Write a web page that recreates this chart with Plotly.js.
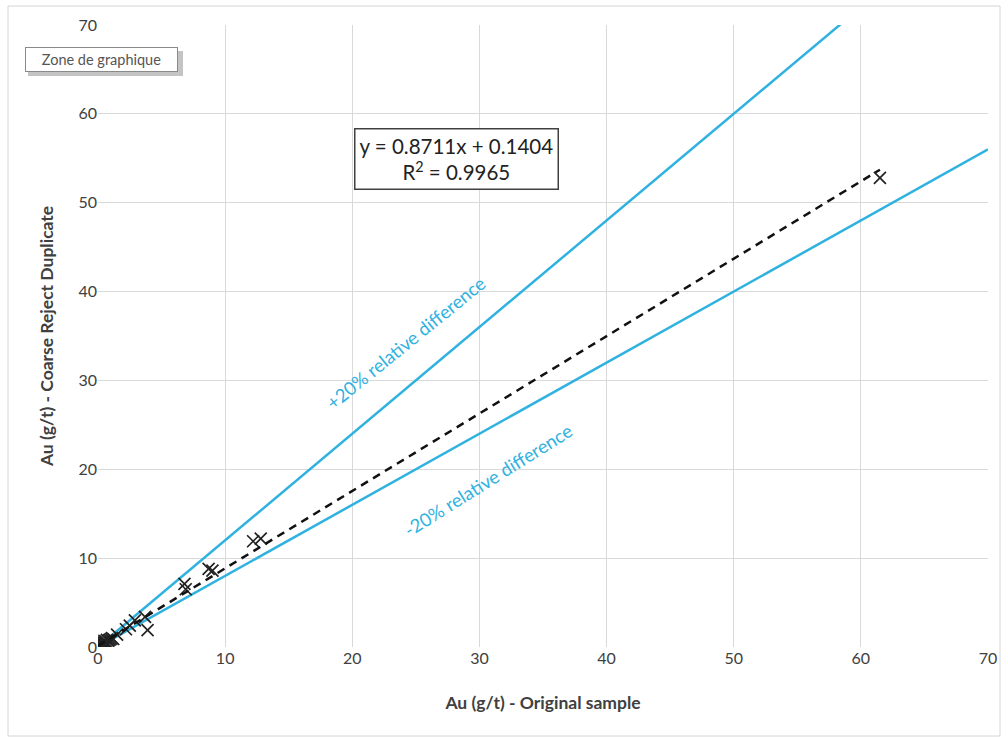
<!DOCTYPE html>
<html>
<head>
<meta charset="utf-8">
<script src="https://cdn.plot.ly/plotly-3.0.1.min.js"></script>
<style>
  html, body { margin: 0; padding: 0; background: #ffffff; }
  #chart { width: 1008px; height: 737px; }
</style>
</head>
<body>
<div id="chart"></div>
<script>
// Data
const originalSample = [0.1, 0.15, 0.2, 0.25, 0.3, 0.35, 0.4, 0.45, 0.5, 0.55, 0.6, 0.65, 0.7, 0.8, 0.9, 1.0, 1.1, 0.3, 0.5, 0.7, 0.4, 0.6, 1.2, 1.5, 2.2, 2.5, 2.9, 3.7, 3.9, 6.8, 6.9, 8.7, 9.0, 12.2, 12.8, 61.5];
const coarseDuplicate = [0.1, 0.2, 0.1, 0.3, 0.2, 0.4, 0.3, 0.5, 0.4, 0.3, 0.6, 0.5, 0.4, 0.7, 0.8, 0.9, 1.0, 0.5, 0.7, 0.8, 0.1, 0.2, 0.9, 1.4, 2.0, 2.4, 3.0, 3.4, 1.9, 7.1, 6.5, 8.8, 8.6, 11.9, 12.2, 52.8];

const slope = 0.8711;
const intercept = 0.1404;
const trendX = [0, 61.5];
const trendY = trendX.map(v => slope * v + intercept);

const limitX = [0, 70];
const plus20Y = limitX.map(v => 1.2 * v);
const minus20Y = limitX.map(v => 0.8 * v);

const tickVals = [0, 10, 20, 30, 40, 50, 60, 70];
const tickText = ['0', '10', '20', '30', '40', '50', '60', '70'];

const blue = '#2fb2df';
const fontFam = 'Lato, "Open Sans", sans-serif';

const traces = [
  { x: limitX, y: plus20Y, mode: 'lines', line: { color: blue, width: 2.5 }, hoverinfo: 'skip', showlegend: false },
  { x: limitX, y: minus20Y, mode: 'lines', line: { color: blue, width: 2.5 }, hoverinfo: 'skip', showlegend: false },
  { x: originalSample, y: coarseDuplicate, mode: 'markers', marker: { symbol: 'x-thin', size: 12, color: '#222', line: { width: 1.7, color: '#222' } }, showlegend: false },
  { x: trendX, y: trendY, mode: 'lines', line: { color: '#111', width: 2.5, dash: '8px,6px' }, hoverinfo: 'skip', showlegend: false }
];

const L = 98, R = 988, T = 25, B = 647;
const px = v => (v - L) / (R - L);
const py = v => (B - v) / (B - T);

const layout = {
  width: 1008, height: 737,
  margin: { l: L, r: 1008 - R, t: T, b: 737 - B },
  paper_bgcolor: '#ffffff', plot_bgcolor: '#ffffff',
  font: { family: fontFam, color: '#404040' },
  xaxis: {
    range: [0, 70], tickvals: tickVals, ticktext: tickText,
    showgrid: true, gridcolor: '#d9d9d9', gridwidth: 1, zeroline: false, showline: false,
    ticks: '', tickfont: { size: 16, color: '#404040', family: fontFam },
    title: { text: 'Au (g/t) - Original sample', font: { size: 17.5, color: '#404040', family: fontFam, weight: 'bold' }, standoff: 30 }
  },
  yaxis: {
    range: [0, 70], tickvals: tickVals, ticktext: tickText,
    showgrid: true, gridcolor: '#d9d9d9', gridwidth: 1, zeroline: false, showline: false,
    ticks: '', tickfont: { size: 16, color: '#404040', family: fontFam },
    title: { text: 'Au (g/t) - Coarse Reject Duplicate', font: { size: 17.5, color: '#404040', family: fontFam, weight: 'bold' }, standoff: 20 }
  },
  shapes: [
    { type: 'rect', xref: 'paper', yref: 'paper', x0: px(8), x1: px(1000), y0: py(736), y1: py(6), line: { color: '#d4d4d4', width: 1 }, layer: 'below' },
    { type: 'rect', xref: 'paper', yref: 'paper', x0: px(28), x1: px(183), y0: py(76), y1: py(51), fillcolor: '#c4c4c4', line: { width: 0 } }
  ],
  annotations: [
    { x: 24.2, y: 34.2, xref: 'x', yref: 'y', xanchor: 'center', yanchor: 'middle', text: '+20% relative difference', showarrow: false, textangle: -39, font: { size: 18.5, color: blue, family: fontFam } },
    { x: 30.7, y: 18.8, xref: 'x', yref: 'y', xanchor: 'center', yanchor: 'middle', text: '-20% relative difference', showarrow: false, textangle: -32, font: { size: 18.5, color: blue, family: fontFam } },
    { x: px(456), y: py(159), xref: 'paper', yref: 'paper', xanchor: 'center', yanchor: 'middle', text: 'y = 0.8711x + 0.1404<br>R<sup>2</sup> = 0.9965', showarrow: false, align: 'center',
      font: { size: 20.5, color: '#222', family: fontFam }, bgcolor: '#ffffff', bordercolor: '#404040', borderwidth: 1.5, borderpad: 4 },
    { x: px(25), y: py(60), xref: 'paper', yref: 'paper', xanchor: 'left', yanchor: 'middle', text: 'Zone de graphique', showarrow: false,
      width: 147, height: 19, align: 'center',
      font: { size: 14.5, color: '#555', family: fontFam }, bgcolor: '#ffffff', bordercolor: '#8a8a8a', borderwidth: 1, borderpad: 2 }
  ]
};

Plotly.newPlot('chart', traces, layout, { displayModeBar: false, staticPlot: true });
</script>
</body>
</html>
